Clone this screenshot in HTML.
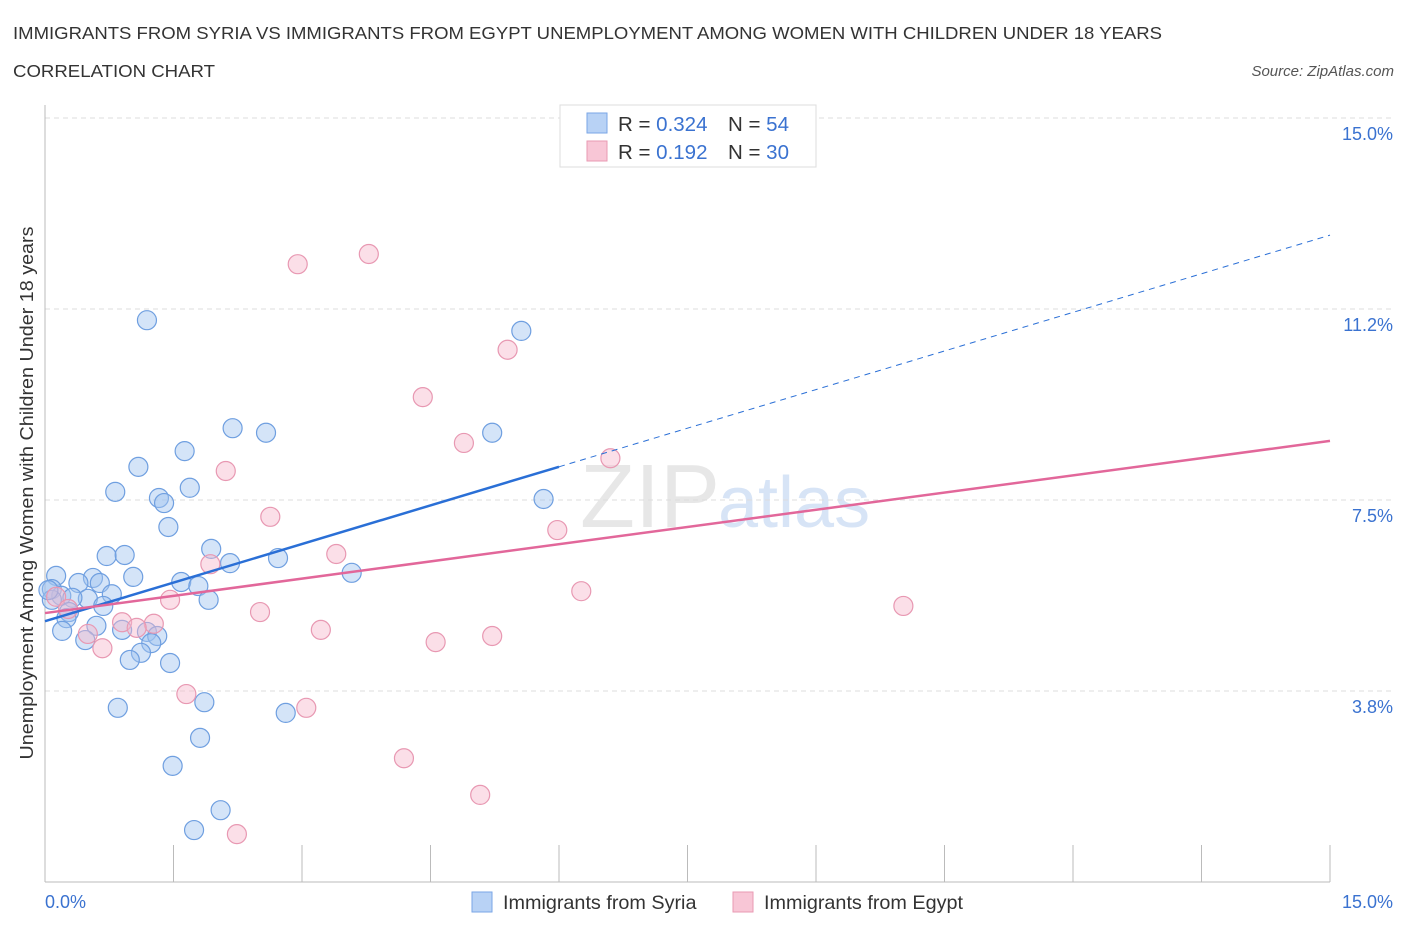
<!DOCTYPE html>
<html><head><meta charset="utf-8">
<style>
body{margin:0;background:#fff;font-family:"Liberation Sans",sans-serif;}
svg text{font-family:"Liberation Sans",sans-serif;}
</style></head>
<body>
<svg id="chart" width="1406" height="930" xmlns="http://www.w3.org/2000/svg">
<text x="13" y="39" font-size="17.5" fill="#333" textLength="1149" lengthAdjust="spacingAndGlyphs">IMMIGRANTS FROM SYRIA VS IMMIGRANTS FROM EGYPT UNEMPLOYMENT AMONG WOMEN WITH CHILDREN UNDER 18 YEARS</text>
<text x="13" y="77" font-size="17.5" fill="#333" textLength="202" lengthAdjust="spacingAndGlyphs">CORRELATION CHART</text>
<text x="1394" y="76" font-size="15" fill="#555" font-style="italic" text-anchor="end">Source: ZipAtlas.com</text>
<text x="720" y="527" font-size="90" fill="#d8d8d8" text-anchor="end" font-family="Liberation Serif" opacity="0.6">ZIP</text>
<text x="718" y="527" font-size="72" fill="#b8cff0" opacity="0.55">atlas</text>
<text transform="translate(33,493) rotate(-90)" font-size="18" fill="#333" text-anchor="middle" textLength="533" lengthAdjust="spacingAndGlyphs">Unemployment Among Women with Children Under 18 years</text>
<g id="grid"></g>
<g id="marks"></g>
<g>
<rect x="560" y="105" width="256" height="62" fill="#fff" stroke="#ddd"/>
<rect x="587" y="113" width="20" height="20" fill="#b8d2f5" stroke="#7aa6e6"/>
<rect x="587" y="141" width="20" height="20" fill="#f8c6d6" stroke="#e99ab3"/>
<text x="618" y="131" font-size="20.5" fill="#333">R = <tspan fill="#3a72d0">0.324</tspan></text>
<text x="728" y="131" font-size="20.5" fill="#333">N = <tspan fill="#3a72d0">54</tspan></text>
<text x="618" y="159" font-size="20.5" fill="#333">R =  <tspan fill="#3a72d0">0.192</tspan></text>
<text x="728" y="159" font-size="20.5" fill="#333">N = <tspan fill="#3a72d0">30</tspan></text>
</g>
<g>
<rect x="472" y="892" width="20" height="20" fill="#b8d2f5" stroke="#7aa6e6"/>
<text x="503" y="909" font-size="19.8" fill="#333">Immigrants from Syria</text>
<rect x="733" y="892" width="20" height="20" fill="#f8c6d6" stroke="#e99ab3"/>
<text x="764" y="909" font-size="19.8" fill="#333">Immigrants from Egypt</text>
</g>
</svg>
<script>
const syriaX=[1.19,5.56,2.19,2.58,5.22,1.63,1.09,0.82,1.69,1.33,1.39,5.82,1.44,1.94,0.72,0.93,2.16,2.72,3.58,1.03,0.13,0.56,0.39,0.64,1.59,1.79,0.08,0.19,0.50,0.78,1.91,0.32,0.68,0.28,0.25,0.60,0.20,0.90,1.19,1.31,1.24,0.47,1.12,0.99,1.46,1.86,0.85,2.81,1.81,1.49,2.05,1.74,0.08,0.04];
const syriaY=[11.03,10.82,8.91,8.82,8.82,8.46,8.15,7.66,7.74,7.54,7.44,7.52,6.97,6.54,6.40,6.42,6.26,6.36,6.07,5.99,6.01,5.97,5.87,5.87,5.89,5.81,5.75,5.62,5.56,5.65,5.54,5.58,5.42,5.30,5.18,5.03,4.93,4.95,4.91,4.83,4.69,4.75,4.50,4.36,4.30,3.53,3.42,3.32,2.83,2.28,1.41,1.02,5.54,5.73];
const egyptX=[3.78,2.95,5.40,4.41,4.89,2.11,6.60,2.63,5.98,3.40,1.93,6.26,10.02,1.46,2.51,0.13,0.27,0.90,1.27,1.07,3.22,5.22,4.56,0.50,0.67,1.65,3.05,4.19,5.08,2.24];
const egyptY=[12.33,12.13,10.45,9.52,8.62,8.07,8.32,7.17,6.91,6.44,6.24,5.71,5.42,5.54,5.30,5.60,5.36,5.10,5.07,4.99,4.95,4.83,4.71,4.87,4.59,3.69,3.42,2.43,1.71,0.94];
const yTicks=[3.75,7.5,11.25,15];
const yTickLabels=["3.8%","7.5%","11.2%","15.0%"];
const xTickLabels=["0.0%","15.0%"];
const syriaTrend=[5.12,12.70];
const egyptTrend=[5.28,8.66];
const syriaSolidEnd=6.0;

const NS="http://www.w3.org/2000/svg";
const X0=45,X1=1330,Y0=882,Y1=118;
const sx=v=>X0+(v/15)*(X1-X0);
const sy=v=>Y0-(v/15)*(Y0-Y1);
function mk(tag,attrs,parent){const e=document.createElementNS(NS,tag);for(const k in attrs)e.setAttribute(k,attrs[k]);parent.appendChild(e);return e;}
const grid=document.getElementById('grid'),marks=document.getElementById('marks');
yTicks.forEach((t,i)=>{
  const l=mk('line',{x1:X0,x2:1395,y1:sy(t),y2:sy(t),stroke:'#ddd','stroke-dasharray':'5,4'},grid);
  
  
  const tx=mk('text',{x:1393,y:sy(t)+22,'font-size':18,fill:'#3a72d0','text-anchor':'end'},grid);
  tx.textContent=yTickLabels[i];
  
  
});
const ya=mk('line',{x1:X0,x2:X0,y1:105,y2:Y0,stroke:'#bbb'},grid);


const xa=mk('line',{x1:X0,x2:X1,y1:Y0,y2:Y0,stroke:'#bbb'},grid);


for(let i=0;i<=10;i++){
  const v=i*1.5;
  const t=mk('line',{x1:sx(v),x2:sx(v),y1:845,y2:Y0,stroke:'#bbb'},grid);
  
  
}
[[0,'start',X0],[15,'end',1393]].forEach((a,i)=>{
  const t=mk('text',{x:a[2],y:908,'font-size':18,fill:'#3a72d0','text-anchor':a[1]},grid);
  t.textContent=xTickLabels[i];
  
  
});
syriaX.forEach((x,i)=>{
  const c=mk('circle',{cx:sx(x),cy:sy(syriaY[i]),r:9.5,fill:'rgba(160,196,240,0.45)',stroke:'#6f9fe0','stroke-width':1.2},marks);
  
  
});
egyptX.forEach((x,i)=>{
  const c=mk('circle',{cx:sx(x),cy:sy(egyptY[i]),r:9.5,fill:'rgba(246,184,204,0.45)',stroke:'#e898b2','stroke-width':1.2},marks);
  
  
});
const syAt=x=>syriaTrend[0]+(syriaTrend[1]-syriaTrend[0])*x/15;
const ts=mk('line',{x1:sx(0),y1:sy(syAt(0)),x2:sx(syriaSolidEnd),y2:sy(syAt(syriaSolidEnd)),stroke:'#2a6fd6','stroke-width':2.5},marks);


const td=mk('line',{x1:sx(syriaSolidEnd),y1:sy(syAt(syriaSolidEnd)),x2:sx(15),y2:sy(syAt(15)),stroke:'#2a6fd6','stroke-width':1,'stroke-dasharray':'6,5'},marks);


const te=mk('line',{x1:sx(0),y1:sy(egyptTrend[0]),x2:sx(15),y2:sy(egyptTrend[1]),stroke:'#e2679a','stroke-width':2.5},marks);


</script>
</body></html>
